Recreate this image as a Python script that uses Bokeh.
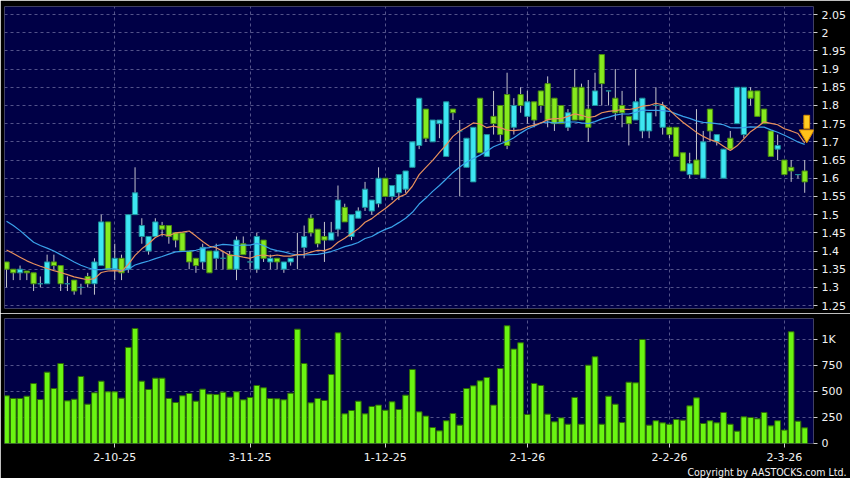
import numpy as np
import pandas as pd
from bokeh.plotting import figure
from bokeh.models import (Range1d, FixedTicker, Grid, ColumnDataSource, Title,
                          CustomJSTickFormatter)
from bokeh.layouts import column
from bokeh.embed import file_html
from bokeh.resources import INLINE

# ---------------- data ----------------
opens = [1.37, 1.35, 1.34, 1.345, 1.34, 1.31, 1.31, 1.37, 1.36, 1.31,
         1.32, 1.30, 1.33, 1.31, 1.36, 1.48, 1.35, 1.38, 1.35, 1.50,
         1.44, 1.40, 1.44, 1.47, 1.47, 1.45, 1.45, 1.40, 1.38, 1.37,
         1.40, 1.38, 1.38, 1.39, 1.35, 1.42, 1.37, 1.35, 1.43, 1.37,
         1.38, 1.35, 1.37, 1.39, 1.41, 1.49, 1.46, 1.44, 1.43, 1.46,
         1.52, 1.44, 1.49, 1.52, 1.51, 1.53, 1.60, 1.55, 1.56, 1.57,
         1.63, 1.69, 1.79, 1.70, 1.75, 1.66, 1.79, 1.73, 1.63, 1.59,
         1.82, 1.66, 1.77, 1.80, 1.83, 1.74, 1.83, 1.77, 1.81, 1.84,
         1.86, 1.82, 1.80, 1.74, 1.85, 1.85, 1.79, 1.80, 1.94, 1.84,
         1.82, 1.80, 1.77, 1.76, 1.73, 1.73, 1.80, 1.74, 1.74, 1.74,
         1.67, 1.61, 1.65, 1.60, 1.79, 1.70, 1.60, 1.71, 1.75, 1.72,
         1.84, 1.84, 1.79, 1.73, 1.68, 1.65, 1.63, 1.61, 1.62]
highs = [1.37, 1.35, 1.36, 1.345, 1.34, 1.33, 1.39, 1.39, 1.36, 1.33,
         1.32, 1.31, 1.34, 1.38, 1.50, 1.48, 1.42, 1.39, 1.50, 1.63,
         1.49, 1.44, 1.49, 1.48, 1.47, 1.45, 1.45, 1.40, 1.38, 1.42,
         1.40, 1.42, 1.40, 1.40, 1.44, 1.44, 1.40, 1.45, 1.43, 1.39,
         1.38, 1.37, 1.38, 1.45, 1.47, 1.50, 1.46, 1.48, 1.48, 1.58,
         1.53, 1.50, 1.52, 1.59, 1.54, 1.63, 1.60, 1.58, 1.61, 1.62,
         1.70, 1.82, 1.79, 1.76, 1.76, 1.81, 1.79, 1.76, 1.71, 1.74,
         1.82, 1.72, 1.84, 1.80, 1.89, 1.82, 1.85, 1.84, 1.81, 1.84,
         1.88, 1.82, 1.80, 1.79, 1.90, 1.86, 1.87, 1.89, 1.94, 1.84,
         1.90, 1.84, 1.77, 1.90, 1.82, 1.78, 1.85, 1.81, 1.74, 1.74,
         1.67, 1.67, 1.79, 1.73, 1.79, 1.72, 1.68, 1.73, 1.85, 1.85,
         1.85, 1.84, 1.79, 1.73, 1.72, 1.65, 1.65, 1.61, 1.65]
lows = [1.30, 1.32, 1.32, 1.32, 1.29, 1.30, 1.31, 1.35, 1.29, 1.29,
        1.28, 1.28, 1.30, 1.28, 1.36, 1.35, 1.32, 1.32, 1.34, 1.50,
        1.42, 1.39, 1.44, 1.44, 1.42, 1.41, 1.40, 1.35, 1.34, 1.35,
        1.34, 1.35, 1.35, 1.35, 1.32, 1.39, 1.35, 1.34, 1.37, 1.35,
        1.35, 1.34, 1.36, 1.35, 1.38, 1.44, 1.41, 1.37, 1.43, 1.44,
        1.48, 1.43, 1.49, 1.51, 1.50, 1.52, 1.55, 1.54, 1.54, 1.56,
        1.63, 1.68, 1.70, 1.70, 1.71, 1.66, 1.76, 1.55, 1.63, 1.59,
        1.67, 1.66, 1.72, 1.70, 1.68, 1.72, 1.78, 1.75, 1.74, 1.78,
        1.74, 1.73, 1.75, 1.73, 1.76, 1.76, 1.70, 1.80, 1.80, 1.80,
        1.76, 1.74, 1.69, 1.76, 1.71, 1.71, 1.77, 1.72, 1.71, 1.66,
        1.62, 1.60, 1.61, 1.60, 1.70, 1.69, 1.60, 1.68, 1.75, 1.71,
        1.80, 1.77, 1.75, 1.66, 1.65, 1.61, 1.59, 1.60, 1.56]
closes = [1.35, 1.34, 1.35, 1.34, 1.31, 1.31, 1.37, 1.36, 1.31, 1.31,
          1.29, 1.30, 1.31, 1.37, 1.48, 1.35, 1.38, 1.34, 1.50, 1.56,
          1.47, 1.44, 1.48, 1.46, 1.44, 1.43, 1.40, 1.37, 1.36, 1.41,
          1.34, 1.40, 1.38, 1.35, 1.43, 1.39, 1.37, 1.44, 1.38, 1.38,
          1.37, 1.37, 1.38, 1.39, 1.44, 1.45, 1.42, 1.43, 1.45, 1.54,
          1.48, 1.50, 1.51, 1.57, 1.54, 1.60, 1.55, 1.58, 1.61, 1.62,
          1.70, 1.82, 1.71, 1.76, 1.76, 1.81, 1.78, 1.73, 1.71, 1.74,
          1.67, 1.72, 1.75, 1.72, 1.69, 1.80, 1.80, 1.81, 1.76, 1.80,
          1.76, 1.75, 1.75, 1.78, 1.76, 1.76, 1.74, 1.84, 1.86, 1.84,
          1.78, 1.78, 1.75, 1.81, 1.82, 1.78, 1.80, 1.80, 1.72, 1.66,
          1.62, 1.64, 1.61, 1.70, 1.73, 1.72, 1.68, 1.68, 1.85, 1.85,
          1.82, 1.77, 1.75, 1.66, 1.69, 1.61, 1.62, 1.61, 1.59]
volumes = [460, 434, 434, 456, 578, 424, 688, 530, 771, 411,
           427, 646, 379, 489, 601, 498, 498, 437, 926, 1109,
           601, 521, 630, 630, 434, 395, 460, 482, 408, 524,
           476, 472, 495, 447, 498, 421, 444, 559, 537, 434,
           431, 421, 485, 1102, 771, 392, 434, 415, 665, 1067,
           286, 318, 408, 286, 357, 370, 321, 402, 328, 466,
           714, 305, 264, 154, 122, 219, 289, 177, 530, 556,
           604, 636, 370, 723, 1135, 910, 971, 280, 579, 559,
           283, 209, 247, 186, 444, 186, 755, 836, 186, 456,
           379, 202, 591, 585, 1003, 177, 219, 199, 186, 231,
           225, 363, 440, 193, 219, 199, 299, 186, 119, 257,
           251, 238, 299, 170, 219, 129, 1077, 215, 151]
# moving-average values before enough history exists in the window
ma10_head = [1.403, 1.393, 1.383, 1.373, 1.365, 1.358, 1.352, 1.346, 1.341]
ma20_head = [1.482, 1.470, 1.456, 1.440, 1.424, 1.415, 1.408, 1.400, 1.390, 1.380,
             1.370, 1.361, 1.354, 1.349, 1.349, 1.351, 1.351, 1.346, 1.350]

date_tick_idx = [16, 36, 56, 77, 98, 115]
date_tick_labels = ["2-10-25", "3-11-25", "1-12-25", "2-1-26", "2-2-26", "2-3-26"]
price_ticks = [1.25, 1.3, 1.35, 1.4, 1.45, 1.5, 1.55, 1.6, 1.65, 1.7, 1.75,
               1.8, 1.85, 1.9, 1.95, 2.0, 2.05]
vol_ticks = [0, 250, 500, 750, 1000]
vol_tick_labels = ["0", "250", "500", "750", "1K"]

# ---------------- derived ----------------
n = len(closes)
idx = np.arange(n)
o = np.array(opens); c = np.array(closes)
ma10 = pd.Series(c).rolling(10).mean().to_numpy()
ma10[:9] = ma10_head
ma20 = pd.Series(c).rolling(20).mean().to_numpy()
ma20[:19] = ma20_head

CYAN, CYAN_LINE = "#3de6f2", "#1d8c98"
GREEN, GREEN_LINE = "#86ea1e", "#4a8c12"
up = c >= o
src = ColumnDataSource(dict(
    x=idx, high=highs, low=lows,
    top=np.maximum(o, c), bottom=np.minimum(o, c),
    fill=[CYAN if u else GREEN for u in up],
    line=[CYAN_LINE if u else GREEN_LINE for u in up],
    ma10=ma10, ma20=ma20, vol=volumes))

BG = "#000046"
GRID = "#8a8ab8"
FONT = "DejaVu Sans"
W = 850
XR = Range1d(-0.3, 119.3)

# ---------------- price panel ----------------
p1 = figure(width=W, height=313, x_range=XR, y_range=Range1d(1.242, 2.072),
            x_axis_location=None, y_axis_location="right",
            output_backend="svg", toolbar_location=None,
            min_border_left=4, min_border_right=37, min_border_top=6, min_border_bottom=5,
            background_fill_color=BG, border_fill_color="#000000", outline_line_color=None)
p1.grid.visible = False
p1.add_layout(Grid(dimension=0, ticker=FixedTicker(ticks=date_tick_idx),
                   grid_line_color=GRID, grid_line_alpha=0.6, grid_line_dash="3 3"))
p1.add_layout(Grid(dimension=1, ticker=FixedTicker(ticks=price_ticks),
                   grid_line_color=GRID, grid_line_alpha=0.6, grid_line_dash="3 3"))
ya = p1.yaxis[0]
ya.ticker = FixedTicker(ticks=price_ticks)
ya.formatter = CustomJSTickFormatter(code="return parseFloat(tick.toFixed(2)).toString();")

p1.segment(x0="x", y0="low", x1="x", y1="high", source=src, line_color="#c4c4cc", line_width=1)
p1.vbar(x="x", width=0.78, top="top", bottom="bottom", source=src,
        fill_color="fill", line_color="line", line_width=1)
p1.line("x", "ma20", source=src, line_color="#3aa2ea", line_width=1.2)
p1.line("x", "ma10", source=src, line_color="#e8905c", line_width=1.2)

# down-arrow marker at the latest moving-average value
last = n - 1
p1.rect(x=[idx[last] + 0.3], y=[ma10[last] + 0.058], width=0.85, height=0.036,
        fill_color="#ffcc22", line_color="#d88a00")
p1.scatter(x=[idx[last] + 0.3], y=[ma10[last] + 0.024], marker="inverted_triangle", size=15,
           fill_color="#ffc21a", line_color="#d88a00")

# ---------------- volume panel ----------------
p2 = figure(width=W, height=165, x_range=XR, y_range=Range1d(0, 1205),
            x_axis_location="below", y_axis_location="right",
            output_backend="svg", toolbar_location=None,
            min_border_left=4, min_border_right=37, min_border_top=5, min_border_bottom=35,
            background_fill_color=BG, border_fill_color="#000000", outline_line_color=None)
p2.grid.visible = False
p2.add_layout(Grid(dimension=0, ticker=FixedTicker(ticks=date_tick_idx),
                   grid_line_color=GRID, grid_line_alpha=0.6, grid_line_dash="3 3"))
p2.add_layout(Grid(dimension=1, ticker=FixedTicker(ticks=vol_ticks),
                   grid_line_color=GRID, grid_line_alpha=0.6, grid_line_dash="3 3"))
p2.vbar(x="x", width=0.84, top="vol", bottom=0, source=src,
        fill_color="#6af512", line_color="#2e6a06", line_width=1)
p2.yaxis.ticker = FixedTicker(ticks=vol_ticks)
p2.yaxis.major_label_overrides = {t: l for t, l in zip(vol_ticks, vol_tick_labels)}
p2.xaxis.ticker = FixedTicker(ticks=date_tick_idx)
p2.xaxis.major_label_overrides = {t: l for t, l in zip(date_tick_idx, date_tick_labels)}

for ax in [p1.yaxis[0], p2.yaxis[0], p2.xaxis[0]]:
    ax.axis_line_color = None
    ax.major_tick_line_color = "#d0d0d0"
    ax.major_tick_in = 0
    ax.major_tick_out = 4
    ax.minor_tick_line_color = None
    ax.major_label_text_color = "#f2f2f2"
    ax.major_label_text_font = FONT
    ax.major_label_text_font_size = "11px"
    ax.major_label_standoff = 4
p2.xaxis.major_label_standoff = 5

cr = Title(text="Copyright by AASTOCKS.com Ltd.", align="right", text_color="#f2f2f2",
           text_font="DejaVu Sans Condensed", text_font_size="10.5px", text_font_style="normal",
           standoff=0, offset=-33)
p2.add_layout(cr, "below")

layout = column(p1, p2, spacing=0)
open("out.html", "w").write(file_html(layout, INLINE))
